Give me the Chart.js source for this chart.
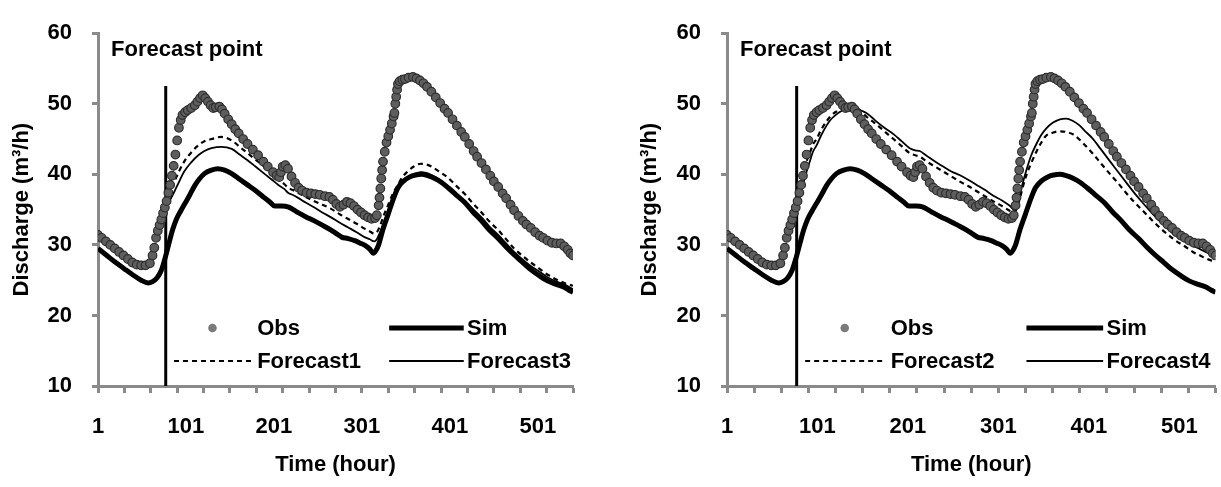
<!DOCTYPE html>
<html>
<head>
<meta charset="utf-8">
<script src="https://cdn.jsdelivr.net/npm/chart.js@4.4.1/dist/chart.umd.min.js"></script>
<style>
  html, body { margin: 0; padding: 0; background: #fff; }
  #wrap { position: relative; width: 1221px; height: 487px; overflow: hidden; }
  canvas { position: absolute; top: 0; }
</style>
</head>
<body>
<div id="wrap">
  <canvas id="left" width="610" height="487" style="left:0"></canvas>
  <canvas id="right" width="611" height="487" style="left:610px"></canvas>
</div>
<script>
// x axis: marks every 30 h, labels every 100 h
const TICK_HOURS = [1, 31, 61, 91, 121, 151, 181, 211, 241, 271, 301, 331, 361, 391, 421, 451, 481, 511, 541];
const LABEL_HOURS = [1, 101, 201, 301, 401, 501];
const Y_TICKS = [10, 20, 30, 40, 50, 60];

const FORECAST_HOUR = 78;
const FORECAST_LINE = [10, 52.5];

// [hour, discharge]
const OBS = [
  [1,31.4],[5,31.0],[10,30.5],[15,30.0],[20,29.5],[25,29.0],[30,28.5],[35,28.0],[40,27.5],[45,27.2],
  [50,27.1],[55,27.1],[60,27.4],[63,28.5],[65,29.6],[67,31.0],[69,32.0],[71,32.8],[73,33.6],[75,34.5],
  [77,35.3],[79,36.2],[81,37.4],[83,38.5],[85,39.8],[87,41.2],[89,42.8],[91,44.8],[93,46.6],[95,47.7],
  [97,48.4],[100,48.8],[103,49.1],[107,49.4],[111,49.8],[114,50.3],[117,50.8],[120,51.2],[123,50.8],[126,50.3],
  [129,49.8],[132,49.4],[135,49.5],[139,49.6],[142,49.2],[145,48.6],[149,47.8],[153,47.1],[157,46.4],[161,45.8],
  [166,45.0],[171,44.3],[177,43.5],[183,42.7],[189,41.8],[194,41.1],[200,40.3],[204,39.8],[207,39.6],[209,40.3],
  [211,41.1],[214,41.3],[217,40.8],[221,39.7],[225,38.8],[229,38.1],[233,37.7],[238,37.4],[243,37.3],[248,37.2],
  [253,37.1],[259,36.9],[264,36.8],[268,36.4],[272,35.8],[276,35.4],[280,35.7],[284,36.1],[288,35.9],[292,35.5],
  [296,35.0],[300,34.6],[304,34.2],[308,33.9],[312,33.7],[316,33.8],[318,34.2],[320,35.6],[321,36.7],[322,38.0],
  [323,39.4],[324,40.6],[325,41.8],[327,43.2],[329,44.5],[331,45.4],[333,46.3],[335,47.2],[337,48.2],[338,48.7],
  [339,50.0],[340,51.0],[341,52.0],[342,52.8],[344,53.2],[347,53.4],[350,53.5],[354,53.7],[359,53.8],[363,53.6],
  [367,53.3],[371,52.9],[375,52.4],[380,51.7],[385,50.9],[390,50.1],[395,49.3],[399,48.7],[404,47.8],[409,46.9],
  [414,46.0],[418,45.3],[423,44.3],[428,43.3],[432,42.5],[437,41.6],[442,40.7],[447,39.8],[451,39.0],[456,38.2],
  [461,37.3],[465,36.6],[470,35.7],[474,34.9],[479,34.1],[484,33.4],[488,32.9],[493,32.4],[498,31.8],[503,31.3],
  [507,31.0],[512,30.6],[517,30.3],[522,30.2],[527,30.2],[531,29.8],[535,29.3],[538,28.8],[541,28.5]
];

const SIM = [
  [1,29.5],[10,28.6],[20,27.6],[30,26.7],[40,25.8],[50,25.0],[58,24.6],[63,24.8],[68,25.3],[73,26.4],
  [77,28.0],[82,30.4],[86,32.2],[90,33.6],[95,34.8],[100,35.9],[105,37.0],[111,38.4],[116,39.3],[122,40.1],
  [130,40.6],[137,40.8],[145,40.6],[153,40.1],[162,39.3],[171,38.5],[180,37.7],[190,36.7],[197,36.0],[202,35.5],
  [210,35.5],[217,35.4],[223,35.0],[228,34.6],[237,34.0],[247,33.4],[256,32.8],[266,32.1],[272,31.6],[278,31.1],
  [285,30.9],[293,30.6],[300,30.2],[305,29.9],[310,29.4],[314,28.8],[317,29.2],[320,30.0],[325,32.2],[331,34.4],
  [337,36.6],[342,38.1],[348,39.0],[355,39.6],[362,39.9],[369,40.0],[376,39.8],[384,39.4],[392,38.8],[399,38.1],
  [408,37.1],[418,36.0],[427,34.7],[437,33.4],[446,32.1],[456,30.9],[465,29.7],[474,28.6],[484,27.5],[493,26.5],
  [503,25.6],[512,24.9],[522,24.4],[531,24.0],[536,23.6],[541,23.3]
];

const FORECAST1 = [
  [78,35.7],[83,37.5],[88,39.0],[93,40.4],[99,41.8],[107,43.1],[115,44.1],[122,44.7],[130,45.0],[141,45.3],
  [153,44.8],[162,43.9],[171,43.0],[180,42.1],[190,41.1],[198,40.2],[206,39.3],[213,38.6],[217,38.1],[222,37.8],
  [228,37.4],[237,36.8],[247,36.2],[256,35.7],[266,35.1],[275,34.4],[285,33.7],[295,33.0],[304,32.3],[310,31.9],
  [315,31.6],[318,31.8],[321,32.5],[326,34.2],[331,35.7],[336,37.2],[342,38.5],[347,39.6],[353,40.4],[360,41.1],
  [368,41.5],[374,41.4],[380,41.1],[390,40.3],[399,39.5],[408,38.4],[418,37.2],[427,35.9],[437,34.6],[446,33.3],
  [456,32.1],[465,30.8],[474,29.5],[484,28.4],[493,27.5],[503,26.6],[512,25.8],[522,25.1],[531,24.6],[541,24.2]
];

const FORECAST3 = [
  [78,35.3],[83,36.4],[88,37.6],[93,38.9],[99,40.4],[107,41.7],[115,42.7],[122,43.3],[130,43.7],[141,43.9],
  [153,43.6],[162,42.8],[171,42.0],[180,41.1],[190,40.1],[198,39.3],[206,38.5],[213,37.9],[217,37.4],[222,37.1],
  [228,36.7],[237,36.0],[247,35.3],[256,34.6],[266,33.9],[275,33.2],[285,32.5],[295,31.8],[304,31.1],[310,30.8],
  [315,30.5],[318,30.8],[321,31.6],[326,33.2],[331,34.8],[336,36.3],[342,37.8],[347,38.8],[353,39.5],[360,40.0],
  [368,40.3],[374,40.2],[380,39.9],[390,39.2],[399,38.3],[408,37.3],[418,36.2],[427,35.1],[437,33.9],[446,32.6],
  [456,31.4],[465,30.2],[474,29.0],[484,27.9],[493,27.0],[503,26.2],[512,25.4],[522,24.8],[531,24.4],[541,23.7]
];

const FORECAST2 = [
  [78,35.7],[82,37.6],[86,39.9],[89,41.8],[93,43.2],[96,44.2],[100,45.0],[105,46.3],[111,47.5],[116,48.3],
  [122,48.9],[128,49.3],[133,49.6],[139,49.6],[144,49.4],[150,48.8],[155,48.2],[160,47.7],[166,47.1],[175,46.1],
  [185,45.0],[194,44.0],[203,43.0],[209,42.7],[214,42.5],[222,41.8],[231,41.1],[240,40.4],[249,39.7],[258,39.0],
  [268,38.3],[277,37.6],[286,36.9],[295,36.2],[305,35.5],[314,34.8],[319,34.6],[322,35.5],[325,36.7],[328,38.2],
  [332,39.9],[337,41.5],[343,43.2],[348,44.4],[354,45.5],[361,45.9],[369,46.1],[376,46.0],[383,45.7],[390,45.0],
  [397,44.1],[405,43.0],[414,41.6],[424,40.1],[433,38.8],[442,37.4],[451,36.1],[461,34.8],[470,33.6],[479,32.5],
  [488,31.5],[497,30.6],[507,29.8],[516,29.0],[524,28.5],[530,28.1],[536,27.8],[541,27.6]
];

const FORECAST4 = [
  [78,35.3],[82,37.0],[86,39.0],[89,40.4],[93,42.0],[96,43.2],[100,44.1],[105,45.5],[111,46.9],[116,47.8],
  [122,48.5],[128,49.0],[133,49.3],[139,49.4],[144,49.4],[150,49.0],[155,48.7],[160,48.2],[166,47.5],[175,46.6],
  [185,45.7],[194,44.7],[203,43.7],[209,43.4],[214,43.3],[222,42.6],[231,41.8],[240,41.1],[249,40.4],[258,39.9],
  [268,39.2],[277,38.5],[286,37.8],[295,37.0],[305,36.3],[314,35.5],[319,34.9],[322,35.8],[325,37.2],[328,38.8],
  [332,40.6],[337,42.6],[343,44.3],[348,45.5],[354,46.5],[361,47.3],[369,47.8],[376,47.9],[383,47.6],[390,47.0],
  [397,46.1],[405,45.1],[414,43.6],[424,41.9],[433,40.4],[442,38.9],[451,37.4],[461,35.9],[470,34.6],[479,33.4],
  [488,32.3],[497,31.3],[507,30.6],[516,29.9],[524,29.4],[530,29.0],[536,28.7],[541,28.4]
];

const FAMILY = "'Liberation Sans', Arial, sans-serif";
const FONT = { family: FAMILY, size: 22, weight: 'bold' };
const AXIS_GREY = '#8a8a8a';
const X_TICKS = [...new Set([...TICK_HOURS, ...LABEL_HOURS])].sort((a, b) => a - b);

function pts(arr) {
  return arr.map(p => ({ x: p[0], y: p[1] }));
}

// legend drawn inside the plot, 2 rows x 2 columns
const boxLegend = {
  id: 'boxLegend',
  afterDraw(chart) {
    const { ctx, chartArea: a } = chart;
    const w = a.right - a.left;
    const cols = [[0.16, 0.322, 0.335], [0.613, 0.77, 0.777]];
    const rows = [328, 361];
    ctx.save();
    ctx.font = 'bold 22px ' + FAMILY;
    ctx.textBaseline = 'middle';
    chart.data.datasets.forEach(ds => {
      if (!ds.slot) return;
      const c = cols[ds.slot[1]], y = rows[ds.slot[0]];
      const x0 = a.left + c[0] * w, x1 = a.left + c[1] * w;
      if (ds.showLine === false) {
        ctx.beginPath();
        ctx.arc((x0 + x1) / 2, y, ds.pointRadius, 0, Math.PI * 2);
        ctx.fillStyle = '#7a7a7a';
        ctx.fill();
      } else {
        ctx.beginPath();
        ctx.setLineDash(ds.borderDash || []);
        ctx.lineWidth = ds.borderWidth;
        ctx.strokeStyle = ds.borderColor;
        ctx.moveTo(x0, y);
        ctx.lineTo(x1, y);
        ctx.stroke();
        ctx.setLineDash([]);
      }
      ctx.fillStyle = '#000';
      ctx.fillText(ds.label, a.left + c[2] * w, y + 1);
    });
    ctx.restore();
  }
};

const note = {
  id: 'note',
  afterDatasetsDraw(chart) {
    const { ctx, chartArea: a } = chart;
    ctx.save();
    ctx.font = 'bold 22px ' + FAMILY;
    ctx.fillStyle = '#000';
    ctx.textBaseline = 'alphabetic';
    ctx.fillText('Forecast point', a.left + 13, 56);
    ctx.restore();
  }
};

function makeChart(id, f1, f3, padLeft, padRight, yWidth) {
  const datasets = [
    { label: 'Obs', data: pts(OBS), showLine: false, pointRadius: 4.3, pointBackgroundColor: '#5e5e5e',
      pointBorderColor: '#2e2e2e', pointBorderWidth: 1.2, slot: [0, 0] },
    { label: 'Sim', data: pts(SIM), borderColor: '#000', borderWidth: 5, pointRadius: 0,
      cubicInterpolationMode: 'monotone', slot: [0, 1] },
    { label: f1.name, data: pts(f1.data), borderColor: '#000', borderWidth: 2.2, borderDash: [5, 4],
      pointRadius: 0, cubicInterpolationMode: 'monotone', slot: [1, 0] },
    { label: f3.name, data: pts(f3.data), borderColor: '#000', borderWidth: 1.8, pointRadius: 0,
      cubicInterpolationMode: 'monotone', slot: [1, 1] },
    { label: 'forecast point', data: FORECAST_LINE.map(v => ({ x: FORECAST_HOUR, y: v })),
      borderColor: '#000', borderWidth: 3, pointRadius: 0 }
  ];

  return new Chart(document.getElementById(id), {
    type: 'line',
    data: { datasets },
    plugins: [note, boxLegend],
    options: {
      responsive: false,
      animation: false,
      devicePixelRatio: 1,
      layout: { padding: { left: padLeft, right: padRight, top: 25, bottom: 0 } },
      plugins: { legend: { display: false }, tooltip: { enabled: false } },
      scales: {
        x: {
          type: 'linear',
          min: 1,
          max: 541,
          afterBuildTicks: s => { s.ticks = X_TICKS.map(v => ({ value: v })); },
          afterFit: s => { s.height = 101; s.paddingLeft = 0; s.paddingRight = 0; },
          border: { color: AXIS_GREY, width: 3 },
          grid: {
            drawOnChartArea: false,
            tickLength: 7,
            tickWidth: 3,
            tickColor: c => (c.tick && TICK_HOURS.includes(c.tick.value)) ? AXIS_GREY : 'rgba(0,0,0,0)'
          },
          ticks: {
            autoSkip: false,
            maxRotation: 0,
            padding: 21,
            color: '#000',
            font: FONT,
            callback: v => LABEL_HOURS.includes(v) ? String(v) : ''
          },
          title: { display: true, text: 'Time (hour)', color: '#000', font: FONT, padding: { top: 0, bottom: 9 } }
        },
        y: {
          min: 10,
          max: 60,
          afterBuildTicks: s => { s.ticks = Y_TICKS.map(v => ({ value: v })); },
          afterFit: s => { s.width = yWidth; },
          border: { color: AXIS_GREY, width: 3 },
          grid: { drawOnChartArea: false, tickLength: 6, tickWidth: 3, tickColor: AXIS_GREY },
          ticks: { padding: 20, color: '#000', font: FONT },
          title: { display: true, text: 'Discharge (m³/h)', color: '#000', font: FONT, padding: { top: 9, bottom: 0 } }
        }
      }
    }
  });
}

makeChart('left', { name: 'Forecast1', data: FORECAST1 }, { name: 'Forecast3', data: FORECAST3 }, 0, 37, 98);
makeChart('right', { name: 'Forecast2', data: FORECAST2 }, { name: 'Forecast4', data: FORECAST4 }, 18, 3, 99);
</script>
</body>
</html>
